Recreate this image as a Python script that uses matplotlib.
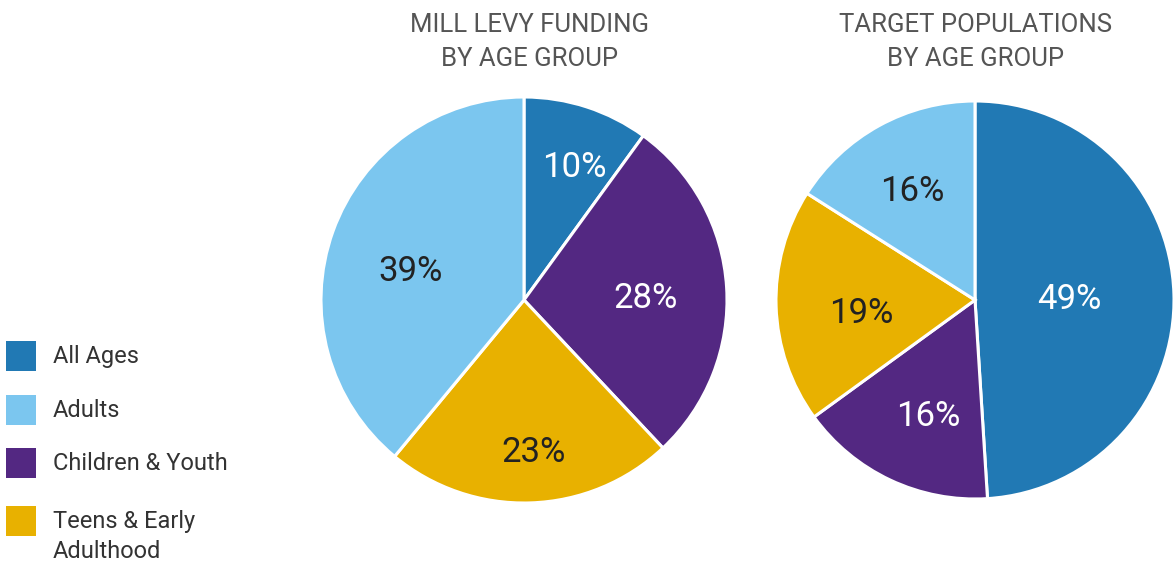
import matplotlib
matplotlib.use("Agg")
import matplotlib.pyplot as plt
from matplotlib.patches import Rectangle
import numpy as np

plt.rcParams['font.family'] = ['Roboto', 'DejaVu Sans']

categories = ["All Ages", "Children & Youth", "Teens & Early\nAdulthood", "Adults"]
legend_order = ["All Ages", "Adults", "Children & Youth", "Teens & Early\nAdulthood"]
colors = {"All Ages": "#2179b4", "Adults": "#7bc6ef",
          "Children & Youth": "#532882", "Teens & Early\nAdulthood": "#e8b100"}
text_colors = {"All Ages": "white", "Adults": "#222222",
               "Children & Youth": "white", "Teens & Early\nAdulthood": "#222222"}

mill_levy = [10, 28, 23, 39]
target_pop = [49, 16, 19, 16]
titles = ["MILL LEVY FUNDING\nBY AGE GROUP", "TARGET POPULATIONS\nBY AGE GROUP"]

W, H = 1173, 565
fig = plt.figure(figsize=(W / 100, H / 100), dpi=100)

def px_axes(cx, cy, r):
    return fig.add_axes([(cx - r) / W, (H - cy - r) / H, 2 * r / W, 2 * r / H])

# label placement (radius fraction, angle nudge in degrees)
label_r = [[0.711, 0.601, 0.736, 0.578], [0.473, 0.614, 0.575, 0.646]]
label_nudge = [[-2.3, -1.5, 2.0, 4.2], [0.6, 2.8, 3.2, 0.6]]
pies = [(524, 300, 203), (975, 300, 199)]
title_x = [530, 976]
data = [mill_levy, target_pop]
digit_px = 25.5

for i in range(2):
    cx, cy, r = pies[i]
    ax = px_axes(cx, cy, r)
    vals = data[i]
    ax.pie(vals, colors=[colors[c] for c in categories], startangle=90,
           counterclock=False, radius=1,
           wedgeprops=dict(edgecolor="white", linewidth=2.2))
    ax.set_xlim(-1, 1)
    ax.set_ylim(-1, 1)
    ax.set_aspect("equal")
    ax.axis("off")
    total = sum(vals)
    cum = 0
    for j, v in enumerate(vals):
        mid = 90 - (cum + v / 2) / total * 360 + label_nudge[i][j]
        cum += v
        rr = label_r[i][j]
        x = rr * np.cos(np.radians(mid))
        y = rr * np.sin(np.radians(mid)) - (digit_px / 2) / r
        ax.text(x, y, f"{v}%", ha="center", va="baseline", fontsize=25,
                color=text_colors[categories[j]])
    fig.text(title_x[i] / W, 1 - 42 / H, titles[i], ha="center", va="center",
             fontsize=18.5, color="#555555", linespacing=1.55)

# legend
leg_y = [356, 410, 463, 521]
for name, y in zip(legend_order, leg_y):
    fig.patches.append(Rectangle((6 / W, 1 - (y + 15) / H), 30 / W, 30 / H,
                                 transform=fig.transFigure, facecolor=colors[name],
                                 edgecolor="none"))
    fig.text(53 / W, 1 - (y - 11) / H, name, ha="left", va="top",
             fontsize=17, color="#333333", linespacing=1.4)

fig.savefig("out.png", dpi=100)
